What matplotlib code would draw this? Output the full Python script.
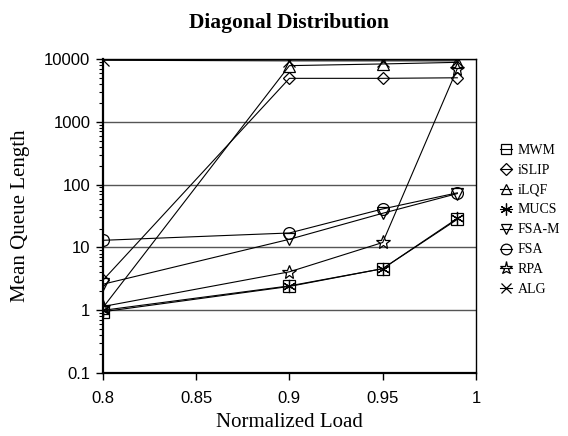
import numpy as np
from matplotlib import pyplot as plt
from matplotlib.ticker import LogLocator, FixedLocator, NullFormatter

# normalized load points
load = [0.8, 0.9, 0.95, 0.99]

# mean queue length per algorithm
mwm = [0.95, 2.4, 4.6, 28]
islip = [3.0, 4900, 4900, 5000]
ilqf = [1.1, 7800, 8300, 8800]
mucs = [1.0, 2.45, 4.6, 29]
fsa_m = [2.6, 13.5, 35, 72]
fsa = [13, 17, 41, 74]
rpa = [1.15, 4.1, 12, 7000]
alg = [9500, 9300, 9300, 9300]

names = ["MWM", "iSLIP", "iLQF", "MUCS", "FSA-M", "FSA", "RPA", "ALG"]
series = [mwm, islip, ilqf, mucs, fsa_m, fsa, rpa, alg]
markers = ["s", "D", "^", (6, 2, 0), "v", "o", "*", "x"]
sizes = [8.5, 6.5, 8.5, 9.5, 8.5, 8.5, 10.5, 8.5]

serif = ["Liberation Serif", "DejaVu Serif"]
sans = ["Liberation Sans", "DejaVu Sans"]

fig = plt.figure(figsize=(5.68, 4.36), dpi=100)
ax = fig.add_axes([0.181, 0.144, 0.657, 0.721])

for name, vals, mk, ms in zip(names, series, markers, sizes):
    ax.plot(load, vals, marker=mk, markersize=ms, color="black", lw=0.8,
            markerfacecolor="none", markeredgewidth=0.9, label=name)

ax.set_yscale("log")
ax.set_xlim(0.8, 1.0)
ax.set_ylim(0.1, 10000)
ax.set_xticks([0.8, 0.85, 0.9, 0.95, 1.0])
ax.set_xticklabels(["0.8", "0.85", "0.9", "0.95", "1"])
ax.yaxis.set_major_locator(FixedLocator([0.1, 1, 10, 100, 1000, 10000]))
ax.set_yticklabels(["0.1", "1", "10", "100", "1000", "10000"])
ax.yaxis.set_minor_locator(LogLocator(base=10, subs=np.arange(2, 10), numticks=20))
ax.yaxis.set_minor_formatter(NullFormatter())
ax.grid(axis="y", which="major", color="#555555", lw=1.0)
ax.set_axisbelow(True)

for lbl in ax.get_xticklabels() + ax.get_yticklabels():
    lbl.set_family(sans)
    lbl.set_fontsize(12)
ax.tick_params(axis="x", which="major", length=5, width=1, pad=8)
ax.tick_params(axis="y", which="major", length=5, width=1, pad=4)
ax.tick_params(axis="y", which="minor", length=3, width=0.8)
for s in ax.spines.values():
    s.set_linewidth(1)
ax.spines["left"].set_linewidth(1.6)
ax.spines["bottom"].set_linewidth(1.6)

ax.set_xlabel("Normalized Load", family=serif, fontsize=15, labelpad=5)
ax.set_ylabel("Mean Queue Length", family=serif, fontsize=15, labelpad=10)
ax.set_title("Diagonal Distribution", family=serif, fontsize=15.5,
             fontweight="bold", pad=22)

ax.legend(loc="upper left", bbox_to_anchor=(1.03, 0.77), frameon=False,
          prop={"family": serif, "size": 10}, handlelength=0.9,
          handletextpad=0.4, labelspacing=0.5, markerscale=0.9)

fig.savefig("out.png", dpi=100)
